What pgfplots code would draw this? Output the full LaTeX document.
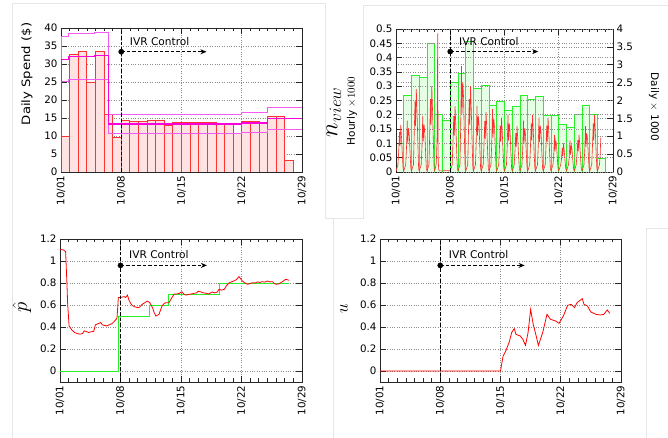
\documentclass[border=0pt]{standalone}
\usepackage{pgfplots}
\pgfplotsset{compat=1.18}
\usepackage{fontspec}
\setmainfont{DejaVu Sans}
\usetikzlibrary{arrows.meta}

\definecolor{barred}{RGB}{255,50,50}
\definecolor{barfill}{RGB}{255,226,226}
\definecolor{magmid}{RGB}{250,0,220}
\definecolor{maglt}{RGB}{245,90,245}
\definecolor{grnline}{RGB}{40,240,40}
\definecolor{grnfill}{RGB}{228,255,228}
\definecolor{hourred}{RGB}{255,45,45}
\definecolor{framec}{RGB}{230,230,230}

\newcommand\ticksize{\fontsize{10.3}{12}\selectfont}

\pgfplotsset{
  panel/.style={
    scale only axis, anchor=south west,
    xmin=0, xmax=28,
    xtick={0,7,14,21,28},
    xticklabels={10/01,10/08,10/15,10/22,10/29},
    minor xtick={1,2,3,4,5,6,8,9,10,11,12,13,15,16,17,18,19,20,22,23,24,25,26,27},
    xticklabel style={rotate=90, anchor=east, font=\ticksize},
    yticklabel style={font=\ticksize, /pgf/number format/fixed, /pgf/number format/precision=2},
    scaled y ticks=false,
    tick align=inside, major tick length=6pt, minor tick length=3.5pt,
    grid style={dotted, black!45, line width=0.6pt},
    xmajorgrids, ymajorgrids,
    axis line style={black!85, line width=0.8pt},
    every tick/.style={black!85, line width=0.6pt},
    /pgf/number format/assume math mode=true,
  },
  ivr/.style={black, line width=0.8pt, dash pattern=on 3.5pt off 2pt},
}

\begin{document}
\begin{tikzpicture}
\fill[white] (0pt,0pt) rectangle (668pt,438pt);
\useasboundingbox (0pt,0pt) rectangle (668pt,438pt);
% faint sub-figure frames
\draw[framec, line width=0.8pt] (12pt,0pt) -- (12pt,435pt) -- (325pt,435pt) -- (325pt,220pt) -- (333pt,220pt) -- (333pt,0pt);
\draw[framec, line width=0.8pt] (333pt,220pt) -- (363pt,220pt) -- (363pt,433pt) -- (668pt,433pt);
\draw[framec, line width=0.8pt] (668pt,210pt) -- (646pt,210pt) -- (646pt,0pt);

% ---------------- Panel 1: daily spend ----------------
\begin{axis}[panel, at={(61pt,266pt)}, width=241pt, height=144pt,
  ymin=0, ymax=40, ytick={0,5,10,15,20,25,30,35,40}]
\addplot[ybar, bar width=1, bar shift=0pt, draw=barred, fill=barfill, line width=0.8pt]
  coordinates {(0.5,10) (1.5,32.7) (2.5,33.4) (3.5,24.9) (4.5,33.4) (5.5,16) (6.5,9.5)
  (7.5,14.2) (8.5,14) (9.5,14) (10.5,14.2) (11.5,14.2) (12.5,12.9) (13.5,13.9)
  (14.5,13.7) (15.5,13.7) (16.5,13.7) (17.5,13.7) (18.5,13.4) (19.5,13.4) (20.5,10.6)
  (21.5,14.1) (22.5,14.1) (23.5,13.4) (24.5,15.4) (25.5,15.4) (26.5,3.3)};
\addplot[const plot, maglt, line width=1pt] coordinates
  {(0,0) (0,37.5) (0.85,38.5) (3.95,38.8) (5.5,16.0) (21,16.4) (24,18.0) (28,18.0)};
\addplot[const plot, maglt, line width=1pt] coordinates
  {(0,0) (0,25.0) (0.9,25.6) (3.95,25.8) (5.5,10.8) (21,11.1) (24,11.85) (28,11.85)};
\addplot[const plot, magmid, line width=1.4pt] coordinates
  {(0,0) (0,31.3) (0.9,32.0) (3.95,32.3) (5.5,13.3) (21,13.6) (24,14.9) (28,14.9)};
\addplot[ivr] coordinates {(7,0) (7,40)};
\addplot[ivr, -{Stealth[length=6pt,width=5pt]}] coordinates {(7,33.4) (16.9,33.4)};
\addplot[only marks, mark=*, mark size=2.6pt, black] coordinates {(7,33.4)};
\node[anchor=west, font=\fontsize{10.6}{12}\selectfont] at (axis cs:7.6,36.3) {IVR Control};
\end{axis}

% ---------------- Panel 2: n_view ----------------
\begin{axis}[panel, at={(396pt,266pt)}, width=217pt, height=143pt,
  axis y line*=right, ymin=0, ymax=4, ytick={0,0.5,1,1.5,2,2.5,3,3.5,4}]
\addplot[ybar, bar width=1, bar shift=0pt, draw=grnline, fill=grnfill, line width=0.8pt]
  coordinates {(0.5,0.79) (1.5,2.13) (2.5,2.7) (3.5,2.65) (4.5,3.59) (5.5,1.62) (6.5,1.45)
  (7.5,2.51) (8.5,2.77) (9.5,3.65) (10.5,2.33) (11.5,2.42) (12.5,1.87) (13.5,1.97)
  (14.5,1.73) (15.5,1.83) (16.5,2.15) (17.5,2.04) (18.5,2.12) (19.5,1.58) (20.5,1.57)
  (21.5,1.33) (22.5,1.25) (23.5,1.62) (24.5,1.85) (25.5,1.62) (26.5,0.37)};
\end{axis}
\begin{axis}[panel, at={(396pt,266pt)}, width=217pt, height=143pt,
  axis y line*=left, axis x line=none, xmajorgrids=false,
  ymin=0, ymax=0.5, ytick={0,0.05,0.1,0.15,0.2,0.25,0.3,0.35,0.4,0.45,0.5}]
\addplot[hourred, line width=0.6pt] coordinates {
 (0,0.004)(0.25,0.025)(0.35,0.074)(0.45,0.14)(0.52,0.091)(0.62,0.165)(0.72,0.116)(0.82,0.058)(0.92,0.01)
 (1,0.004)(1.25,0.025)(1.35,0.081)(1.45,0.18)(1.52,0.099)(1.62,0.153)(1.72,0.126)(1.82,0.063)(1.92,0.01)
 (2,0.004)(2.25,0.025)(2.35,0.131)(2.45,0.247)(2.52,0.16)(2.62,0.29)(2.72,0.203)(2.82,0.102)(2.92,0.01)
 (3,0.004)(3.25,0.025)(3.35,0.088)(3.45,0.195)(3.52,0.107)(3.62,0.166)(3.72,0.137)(3.82,0.068)(3.92,0.01)
 (4,0.004)(4.25,0.025)(4.35,0.135)(4.45,0.255)(4.52,0.165)(4.62,0.3)(4.72,0.21)(4.82,0.105)(4.92,0.01)
 (5,0.004)(5.2,0.03)(5.3,0.12)(5.38,0.485)(5.43,0.06)(5.5,0.01)(5.6,0.004)
 (6,0.004)(6.5,0.005)
 (7,0.004)(7.25,0.025)(7.35,0.104)(7.45,0.196)(7.52,0.127)(7.62,0.23)(7.72,0.161)(7.82,0.081)(7.92,0.01)
 (8,0.004)(8.25,0.025)(8.35,0.167)(8.45,0.37)(8.52,0.204)(8.62,0.315)(8.72,0.259)(8.82,0.13)(8.92,0.01)
 (9,0.004)(9.25,0.025)(9.35,0.135)(9.45,0.255)(9.52,0.165)(9.62,0.3)(9.72,0.21)(9.82,0.105)(9.92,0.01)
 (10,0.004)(10.25,0.025)(10.35,0.104)(10.45,0.23)(10.52,0.127)(10.62,0.196)(10.72,0.161)(10.82,0.081)(10.92,0.01)
 (11,0.004)(11.25,0.025)(11.35,0.095)(11.45,0.179)(11.52,0.116)(11.62,0.21)(11.72,0.147)(11.82,0.074)(11.92,0.01)
 (12,0.004)(12.25,0.025)(12.35,0.099)(12.45,0.22)(12.52,0.121)(12.62,0.187)(12.72,0.154)(12.82,0.077)(12.92,0.01)
 (13,0.004)(13.25,0.025)(13.35,0.086)(13.45,0.162)(13.52,0.105)(13.62,0.19)(13.72,0.133)(13.82,0.067)(13.92,0.01)
 (14,0.004)(14.25,0.025)(14.35,0.09)(14.45,0.2)(14.52,0.11)(14.62,0.17)(14.72,0.14)(14.82,0.07)(14.92,0.01)
 (15,0.004)(15.25,0.025)(15.35,0.072)(15.45,0.136)(15.52,0.088)(15.62,0.16)(15.72,0.112)(15.82,0.056)(15.92,0.01)
 (16,0.004)(16.25,0.025)(16.35,0.081)(16.45,0.18)(16.52,0.099)(16.62,0.153)(16.72,0.126)(16.82,0.063)(16.92,0.01)
 (17,0.004)(17.25,0.025)(17.35,0.09)(17.45,0.17)(17.52,0.11)(17.62,0.2)(17.72,0.14)(17.82,0.07)(17.92,0.01)
 (18,0.004)(18.25,0.025)(18.35,0.086)(18.45,0.19)(18.52,0.105)(18.62,0.162)(18.72,0.133)(18.82,0.067)(18.92,0.01)
 (19,0.004)(19.25,0.025)(19.35,0.086)(19.45,0.162)(19.52,0.105)(19.62,0.19)(19.72,0.133)(19.82,0.067)(19.92,0.01)
 (20,0.004)(20.25,0.025)(20.35,0.059)(20.45,0.13)(20.52,0.072)(20.62,0.111)(20.72,0.091)(20.82,0.046)(20.92,0.01)
 (21,0.004)(21.25,0.025)(21.35,0.045)(21.45,0.085)(21.52,0.055)(21.62,0.1)(21.72,0.07)(21.82,0.035)(21.92,0.01)
 (22,0.004)(22.25,0.025)(22.35,0.05)(22.45,0.11)(22.52,0.061)(22.62,0.094)(22.72,0.077)(22.82,0.039)(22.92,0.01)
 (23,0.004)(23.25,0.025)(23.35,0.059)(23.45,0.111)(23.52,0.072)(23.62,0.13)(23.72,0.091)(23.82,0.046)(23.92,0.01)
 (24,0.004)(24.25,0.025)(24.35,0.072)(24.45,0.16)(24.52,0.088)(24.62,0.136)(24.72,0.112)(24.82,0.056)(24.92,0.01)
 (25,0.004)(25.25,0.025)(25.35,0.09)(25.45,0.17)(25.52,0.11)(25.62,0.2)(25.72,0.14)(25.82,0.07)(25.92,0.01)
 (26,0.004)(26.25,0.025)(26.35,0.063)(26.42,0.12)};
\addplot[ivr] coordinates {(7,0) (7,0.5)};
\addplot[ivr, -{Stealth[length=6pt,width=5pt]}] coordinates {(7,0.421) (18.35,0.421)};
\addplot[only marks, mark=*, mark size=2.6pt, black] coordinates {(7,0.421)};
\node[anchor=west, font=\fontsize{10.6}{12}\selectfont] at (axis cs:7.7,0.456) {IVR Control};
\end{axis}

% ---------------- Panel 3: p hat ----------------
\begin{axis}[panel, at={(60pt,56pt)}, width=242pt, height=143pt,
  ymin=-0.1, ymax=1.2, ytick={0,0.2,0.4,0.6,0.8,1,1.2}]
\addplot[const plot, grnline, line width=0.9pt] coordinates
  {(0,0) (6.8,0.5) (10.4,0.6) (12.6,0.7) (18.4,0.8) (26.5,0.8)};
\addplot[red, line width=0.8pt] coordinates {
 (0,1.106) (0.4,1.1) (0.65,1.085) (0.8,0.8) (0.88,0.62) (1.05,0.41) (1.4,0.37) (1.7,0.35) (2.0,0.34)
 (2.3,0.335) (2.6,0.34) (2.8,0.365) (3.0,0.36) (3.3,0.35) (3.5,0.355) (3.9,0.36) (4.1,0.42)
 (4.4,0.43) (4.7,0.44) (4.9,0.42) (5.1,0.415) (5.4,0.41) (5.7,0.42) (6.0,0.43) (6.2,0.445)
 (6.5,0.47) (6.6,0.485) (6.75,0.667) (7.1,0.67) (7.4,0.676) (7.6,0.668) (7.8,0.69) (8.0,0.64)
 (8.3,0.6) (8.6,0.585) (9.0,0.576) (9.2,0.58) (9.5,0.606) (9.8,0.62) (10.1,0.636) (10.4,0.62)
 (10.7,0.576) (10.9,0.53) (11.1,0.5) (11.45,0.515) (11.8,0.59) (12.0,0.61) (12.2,0.62)
 (12.6,0.62) (12.9,0.66) (13.2,0.70) (13.5,0.7) (13.8,0.706) (14.1,0.72) (14.35,0.697)
 (14.6,0.69) (14.9,0.697) (15.2,0.7) (15.5,0.706) (15.8,0.71) (16.0,0.725) (16.3,0.718)
 (16.6,0.71) (16.9,0.706) (17.2,0.7) (17.6,0.718) (17.9,0.71) (18.2,0.718) (18.4,0.742)
 (18.7,0.735) (19.0,0.742) (19.3,0.78) (19.6,0.803) (20.1,0.818) (20.4,0.83) (20.7,0.858)
 (21.1,0.818) (21.4,0.8) (21.7,0.788) (22.0,0.795) (22.3,0.803) (22.6,0.8) (22.85,0.81)
 (23.1,0.805) (23.4,0.812) (23.7,0.808) (24.0,0.818) (24.3,0.81) (24.6,0.812) (24.8,0.795)
 (25.0,0.788) (25.3,0.792) (25.55,0.803) (25.8,0.815) (26.1,0.833) (26.3,0.83) (26.5,0.824)};
\addplot[ivr] coordinates {(7,-0.1) (7,1.2)};
\addplot[ivr, -{Stealth[length=6pt,width=5pt]}] coordinates {(7,0.96) (17.0,0.96)};
\addplot[only marks, mark=*, mark size=2.6pt, black] coordinates {(7,0.96)};
\node[anchor=west, font=\fontsize{10.6}{12}\selectfont] at (axis cs:7.6,1.06) {IVR Control};
\end{axis}

% ---------------- Panel 4: u ----------------
\begin{axis}[panel, at={(380pt,56pt)}, width=241pt, height=143pt,
  ymin=-0.1, ymax=1.2, ytick={0,0.2,0.4,0.6,0.8,1,1.2}]
\addplot[red, line width=0.8pt] coordinates {
 (0,0) (14.0,0) (14.3,0.136) (14.6,0.18) (15.0,0.26) (15.3,0.35) (15.6,0.385) (15.8,0.333)
 (16.3,0.318) (16.6,0.288) (16.9,0.233) (17.2,0.348) (17.5,0.56) (17.8,0.424) (18.1,0.333)
 (18.4,0.233) (18.9,0.348) (19.4,0.515) (19.8,0.47) (20.4,0.455) (20.8,0.433) (21.3,0.5)
 (21.8,0.597) (22.2,0.606) (22.6,0.576) (22.9,0.621) (23.5,0.658) (23.7,0.606) (24.1,0.591)
 (24.5,0.536) (25.1,0.515) (25.6,0.509) (26.0,0.515) (26.4,0.555) (26.7,0.524)};
\addplot[ivr] coordinates {(7,-0.1) (7,1.2)};
\addplot[ivr, -{Stealth[length=6pt,width=5pt]}] coordinates {(7,0.96) (16.8,0.96)};
\addplot[only marks, mark=*, mark size=2.6pt, black] coordinates {(7,0.96)};
\node[anchor=west, font=\fontsize{10.6}{12}\selectfont] at (axis cs:7.6,1.06) {IVR Control};
\end{axis}

% ---------------- axis labels ----------------
\node[rotate=90, font=\fontsize{11.5}{13}\selectfont] at (27pt,364pt) {\scalebox{1.15}[1]{Daily Spend (\$)}};
\node[rotate=90, font=\fontsize{24}{26}\selectfont] at (334pt,326pt) {$n_{view}$};
\node[rotate=90, font=\fontsize{10.5}{12}\selectfont] at (352pt,327pt) {Hourly $\times 1000$};
\node[rotate=-90, font=\fontsize{10.5}{12}\selectfont] at (654pt,331pt) {Daily $\times$ 1000};
\node[rotate=90, font=\fontsize{20}{22}\selectfont] at (22pt,131pt) {$\hat{p}$};
\node[rotate=90, font=\fontsize{19}{21}\selectfont] at (344pt,129pt) {$u$};
\end{tikzpicture}
\end{document}
